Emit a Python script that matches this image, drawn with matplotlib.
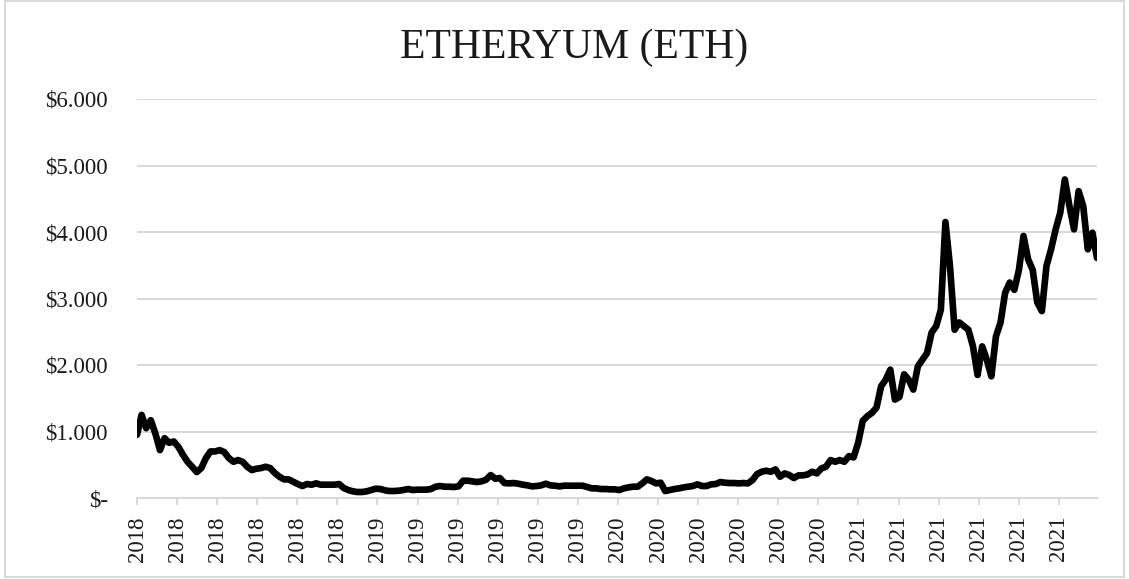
import matplotlib
matplotlib.use("Agg")
import matplotlib.pyplot as plt
import numpy as np
from matplotlib.patches import Rectangle

# weekly ETH close (USD), Jan 2018 -> Dec 2021
price = [
    950, 1250, 1050, 1170, 970, 720, 900, 830, 850, 770,
    650, 545, 470, 390, 450, 600, 700, 700, 720, 690,
    600, 545, 570, 545, 470, 420, 440, 450, 470, 450,
    375, 320, 280, 280, 245, 210, 180, 210, 200, 220,
    200, 200, 200, 200, 210, 150, 120, 100, 90, 90,
    100, 120, 140, 135, 115, 105, 105, 110, 120, 135,
    120, 125, 125, 125, 135, 170, 180, 170, 170, 165,
    175, 260, 260, 250, 240, 250, 275, 345, 290, 300,
    225, 220, 225, 215, 200, 190, 175, 180, 190, 215,
    190, 185, 175, 185, 185, 185, 185, 185, 165, 145,
    145, 135, 135, 130, 130, 120, 145, 160, 170, 170,
    220, 280, 255, 220, 230, 105, 120, 135, 145, 160,
    170, 180, 205, 180, 180, 205, 210, 240, 230, 225,
    225, 220, 225, 220, 270, 360, 395, 410, 395, 430,
    320, 370, 345, 300, 340, 340, 355, 395, 370, 445,
    470, 570, 545, 570, 545, 630, 610, 830, 1160, 1230,
    1280, 1360, 1680, 1780, 1930, 1480, 1520, 1860, 1780, 1630,
    1980, 2080, 2180, 2490, 2585, 2830, 4150, 3480, 2530, 2640,
    2585, 2530, 2280, 1850, 2280, 2080, 1830, 2430, 2640, 3085,
    3240, 3130, 3430, 3940, 3590, 3430, 2940, 2810, 3490, 3740,
    4040, 4290, 4790, 4390, 4040, 4615, 4390, 3740, 3990, 3610,
]
n_days = 1461
x_labels = ["2018"] * 6 + ["2019"] * 6 + ["2020"] * 6 + ["2021"] * 6
y_ticks = [0, 1000, 2000, 3000, 4000, 5000, 6000]
y_labels = ["$-", "$1.000", "$2.000", "$3.000", "$4.000", "$5.000", "$6.000"]

serif = ["Liberation Serif", "DejaVu Serif"]
grid_c = "#d9d9d9"
text_c = "#1a1a1a"

fig = plt.figure(figsize=(11.29, 5.79), dpi=100)
ax = fig.add_axes([137 / 1129, 1 - 498 / 579, 960 / 1129, 399 / 579])

days = np.linspace(0, n_days, len(price))
ax.plot(days, price, color="black", lw=4.8, solid_joinstyle="round", solid_capstyle="round")

ax.set_xlim(0, n_days)
ax.set_ylim(0, 6000)
ax.set_yticks(y_ticks)
ax.set_yticklabels(y_labels, fontfamily=serif, fontsize=16.5, color=text_c)
tick_pos = np.arange(len(x_labels)) * 61
ax.set_xticks(tick_pos)
ax.set_xticklabels(x_labels, rotation=90, fontfamily=serif, fontsize=16.5, color=text_c)

ax.grid(axis="y", color=grid_c, lw=1.5)
ax.set_axisbelow(True)
for s in ["top", "left", "right"]:
    ax.spines[s].set_visible(False)
ax.spines["bottom"].set_color(grid_c)
ax.spines["bottom"].set_linewidth(1.5)
ax.tick_params(axis="y", length=0, pad=21)
ax.tick_params(axis="x", length=5, width=1.5, color=grid_c, direction="out", pad=8)

fig.text(574 / 1129, 1 - 48 / 579, "ETHERYUM (ETH)", ha="center", va="center",
         fontfamily=serif, fontsize=30, color=text_c)

fig.patches.append(Rectangle((5 / 1129, 2 / 579), 1119 / 1129, 576 / 579,
                             transform=fig.transFigure, fill=False,
                             edgecolor=grid_c, lw=1.5))

fig.savefig("out.png", dpi=100)
